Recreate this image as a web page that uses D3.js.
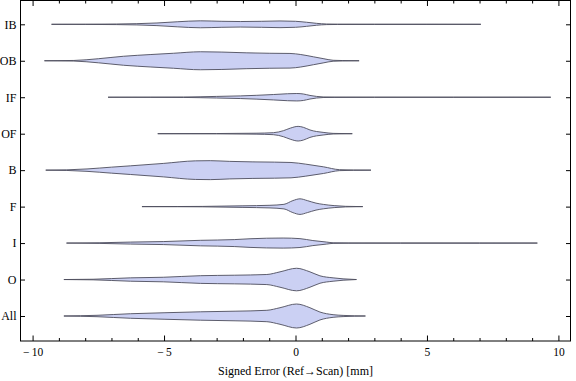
<!DOCTYPE html>
<html>
<head>
<meta charset="utf-8">
<script src="https://cdn.jsdelivr.net/npm/d3@7"></script>
<style>
  html, body { margin: 0; padding: 0; background: #fff; }
  svg { display: block; }
  text { font-family: "Liberation Serif", "Times New Roman", serif; fill: #000; }
</style>
</head>
<body>
<svg id="chart" width="576" height="381"></svg>
<script>
// ---- data ----
const categories = ["IB", "OB", "IF", "OF", "B", "F", "I", "O", "All"];
const xTicks = [-10, -5, 0, 5, 10];
const xMinorTicks = d3.range(-10, 11, 1);
const xLabel = "Signed Error (Ref\u2192Scan) [mm]";

// density profiles: [signed error (mm), relative density]
const densIB = [[-9.28,0],[-8.0,0.008],[-6.8,0.025],[-5.27,0.11],[-4.5,0.21],[-3.62,0.29],[-2.8,0.25],[-2.1,0.23],[-1.3,0.25],[-0.59,0.28],[0.0,0.25],[0.42,0.17],[0.8,0.08],[1.18,0.025],[1.6,0.013],[3,0.008],[5,0.007],[7.05,0]];
const densOB = [[-9.55,0],[-8.43,0.025],[-7.5,0.17],[-6.54,0.375],[-5.5,0.52],[-4.64,0.625],[-3.62,0.75],[-2.8,0.725],[-1.85,0.66],[-1.0,0.625],[-0.21,0.61],[0.2,0.52],[0.68,0.33],[1.05,0.18],[1.43,0.04],[1.8,0.017],[2.42,0]];
const densIF = [[-7.13,0],[-5.5,0.008],[-4.26,0.017],[-3.0,0.067],[-2.1,0.11],[-0.84,0.225],[-0.3,0.29],[0.05,0.31],[0.3,0.27],[0.55,0.15],[0.8,0.067],[1.05,0.025],[1.5,0.013],[3,0.008],[6,0.007],[9.71,0]];
const densOF = [[-5.24,0],[-3.0,0.013],[-1.5,0.04],[-0.84,0.083],[-0.46,0.25],[-0.2,0.46],[0.1,0.61],[0.3,0.53],[0.55,0.31],[0.8,0.18],[1.05,0.11],[1.43,0.025],[2.16,0]];
const densB = [[-9.5,0],[-8.7,0.025],[-7.93,0.1],[-7.0,0.25],[-6.28,0.36],[-5.03,0.56],[-3.81,0.775],[-3.24,0.79],[-2.5,0.73],[-1.65,0.69],[-0.8,0.67],[-0.17,0.64],[0.39,0.5],[1.07,0.275],[1.67,0.04],[2.2,0.013],[2.87,0]];
const densF = [[-5.84,0],[-4.5,0.008],[-3.55,0.017],[-2.0,0.067],[-0.97,0.11],[-0.44,0.19],[-0.1,0.5],[0.17,0.65],[0.45,0.5],[0.78,0.29],[1.07,0.18],[1.47,0.083],[1.9,0.025],[2.56,0]];
const densI = [[-8.71,0],[-7.47,0.025],[-6.28,0.083],[-5.03,0.125],[-3.62,0.23],[-2.33,0.29],[-1.73,0.36],[-0.47,0.42],[0.17,0.37],[0.66,0.21],[1.19,0.083],[1.43,0.025],[2.0,0.013],[4,0.008],[7,0.007],[9.2,0]];
const densO = [[-8.81,0],[-7.7,0.025],[-6.28,0.14],[-5.03,0.19],[-3.62,0.32],[-2.33,0.36],[-1.09,0.42],[-0.59,0.64],[0.04,0.94],[0.55,0.64],[0.93,0.31],[1.43,0.14],[1.81,0.058],[2.32,0]];
const densAll = [[-8.81,0],[-7.55,0.058],[-6.28,0.19],[-5.0,0.27],[-3.62,0.35],[-2.3,0.4],[-1.09,0.475],[-0.59,0.69],[0.04,1.0],[0.55,0.69],[0.93,0.33],[1.43,0.11],[1.81,0.05],[2.66,0]];

const profiles = { IB: densIB, OB: densOB, IF: densIF, OF: densOF, B: densB, F: densF, I: densI, O: densO, All: densAll };

// ---- layout ----
const frame = { left: 20.5, right: 570.5, top: 0.5, bottom: 341 };
const svg = d3.select("#chart");

const x = d3.scaleLinear().domain([-10.46, 10.46]).range([frame.left, frame.right]);
const y = d3.scalePoint().domain(categories).range([24.3, 316]);
const w = d3.scaleLinear().domain([0, 1]).range([0, 12]);

// violins
const g = svg.append("g");
categories.forEach(cat => {
  const cy = y(cat);
  const area = d3.area()
    .x(d => x(d[0]))
    .y0(d => cy - w(d[1]))
    .y1(d => cy + w(d[1]))
    .curve(d3.curveMonotoneX);
  g.append("path")
    .datum(profiles[cat])
    .attr("d", area)
    .attr("fill", "#cbd0f3")
    .attr("stroke", "#4d4d5c")
    .attr("stroke-width", 0.9)
    .attr("stroke-linejoin", "round");
});

// axes
function styleAxis(sel) {
  sel.select(".domain").remove();
  sel.selectAll("line").attr("stroke", "#000").attr("stroke-width", 1);
}

const fmt = d => d < 0 ? "\u2212\u2009" + Math.abs(d) : String(d);

svg.append("g")
  .attr("transform", `translate(0,${frame.bottom})`)
  .call(d3.axisBottom(x).tickValues(xTicks).tickSize(-5.5).tickPadding(7).tickFormat(fmt))
  .call(styleAxis)
  .call(s => s.selectAll("text").attr("font-size", "11.5px").attr("font-family", "Liberation Serif"));

svg.append("g")
  .attr("transform", `translate(0,${frame.bottom})`)
  .call(d3.axisBottom(x).tickValues(xMinorTicks.filter(v => !xTicks.includes(v))).tickSize(-3).tickFormat(""))
  .call(styleAxis);

svg.append("g")
  .attr("transform", `translate(0,${frame.top})`)
  .call(d3.axisTop(x).tickValues(xTicks).tickSize(-5.5).tickFormat(""))
  .call(styleAxis);

svg.append("g")
  .attr("transform", `translate(0,${frame.top})`)
  .call(d3.axisTop(x).tickValues(xMinorTicks.filter(v => !xTicks.includes(v))).tickSize(-3).tickFormat(""))
  .call(styleAxis);

svg.append("g")
  .attr("transform", `translate(${frame.left},0)`)
  .call(d3.axisLeft(y).tickSize(-4.5).tickPadding(4))
  .call(styleAxis)
  .call(s => s.selectAll("text").attr("font-size", "12px").attr("font-family", "Liberation Serif"));

svg.append("g")
  .attr("transform", `translate(${frame.right},0)`)
  .call(d3.axisRight(y).tickSize(-4.5).tickFormat(""))
  .call(styleAxis);

// frame
svg.append("rect")
  .attr("x", frame.left).attr("y", frame.top)
  .attr("width", frame.right - frame.left).attr("height", frame.bottom - frame.top)
  .attr("fill", "none").attr("stroke", "#000").attr("stroke-width", 1);

// axis title
svg.append("text")
  .attr("x", x(0)).attr("y", 375)
  .attr("text-anchor", "middle")
  .attr("font-size", "12px")
  .text(xLabel);
</script>
</body>
</html>
